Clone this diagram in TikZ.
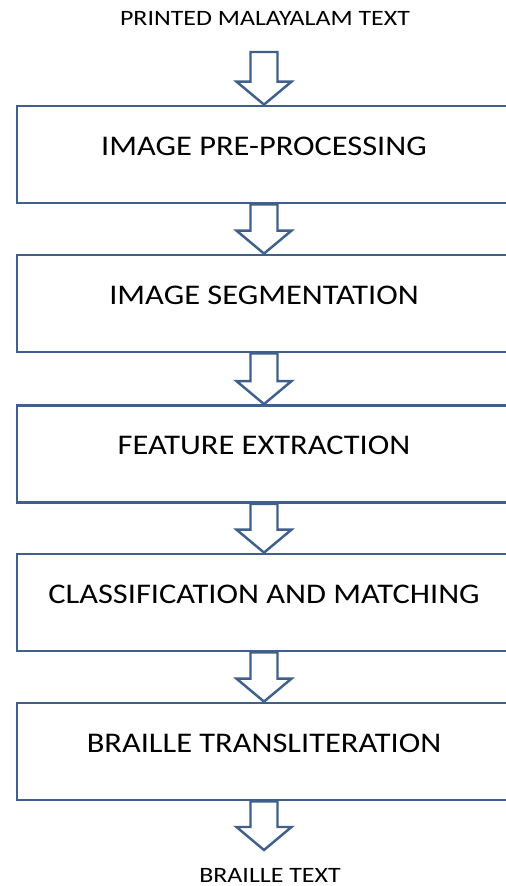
\documentclass[tikz,border=0pt]{standalone}
\usepackage{fontspec}
\setmainfont{Carlito}
\newfontfamily\widefont[FakeStretch=1.14]{Carlito}
\newfontfamily\endfont[FakeStretch=1.18]{Carlito}
\usetikzlibrary{calc}
\definecolor{boxblue}{RGB}{64,96,140}
\tikzset{
  stagebox/.style={draw=boxblue, line width=1.6pt, minimum width=9.88cm, inner xsep=0pt, inner ysep=0pt,
    text height=0.98cm, text depth=0.96cm, font=\widefont\fontsize{16.2}{18}\selectfont},
  endtext/.style={font=\endfont\fontsize{12.5}{14}\selectfont},
  flowarrow/.style={draw=boxblue, line width=1.4pt, fill=white, line join=miter}
}
\newcommand{\stagearrow}[2]{%
  \draw[flowarrow] ($(#1)+(-13.5,0)$) -- ($(#2)+(-13.5,-23)$) -- ($(#2)+(-27.5,-23)$) -- (#2)
    -- ($(#2)+(27.5,-23)$) -- ($(#2)+(13.5,-23)$) -- ($(#1)+(13.5,0)$) -- cycle;}
\begin{document}
\begin{tikzpicture}[x=0.02cm, y=-0.02cm]
  \useasboundingbox (0,0) rectangle (505,886);
  \node[endtext] (in) at (265,18) {PRINTED MALAYALAM TEXT};
  \coordinate (inarrow) at (264,52);

  \node[stagebox] (prep) at (264,154.5) {IMAGE PRE-PROCESSING};
  \node[stagebox] (seg) at (264,303.5) {IMAGE SEGMENTATION};
  \node[stagebox] (feat) at (264,454) {FEATURE EXTRACTION};
  \node[stagebox] (match) at (264,602.5) {CLASSIFICATION AND MATCHING};
  \node[stagebox] (braille) at (264,751.5) {BRAILLE TRANSLITERATION};

  \coordinate (outarrow) at (264,850);
  \node[endtext] (out) at (270,875) {BRAILLE TEXT};

  \stagearrow{inarrow}{prep.north}
  \stagearrow{prep.south}{seg.north}
  \stagearrow{seg.south}{feat.north}
  \stagearrow{feat.south}{match.north}
  \stagearrow{match.south}{braille.north}
  \stagearrow{braille.south}{outarrow}
\end{tikzpicture}
\end{document}
